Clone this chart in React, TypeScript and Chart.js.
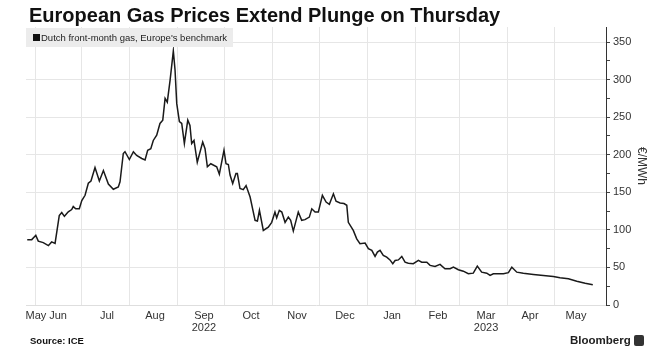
import React, { useEffect, useRef } from 'react';
import { Chart, registerables } from 'chart.js';

Chart.register(...registerables);

// Days since 2022-06-01
const dayOffsets = [
  -5, -2.1, 0.5, 2.1, 5.3, 8.6, 10.7, 12.9, 15.6, 17.2,
  18.9, 21.4, 23.6, 24.6, 26.2, 28.5, 30.1, 32.2, 34.3, 36.0,
  38.6, 41.4, 44.0, 47.2, 50.4, 53.6, 54.7, 56.8, 57.9, 60.7,
  63.3, 65.4, 68.7, 70.8, 72.5, 74.5, 76.1, 78.3, 80.4, 82.2,
  83.7, 85.1, 86.9, 89.0, 90.1, 91.2, 92.9, 94.4, 96.1, 98.3,
  99.7, 100.8, 102.3, 104.4, 107.9, 109.4, 110.9, 113.1, 116.9, 118.6,
  121.6, 122.9, 124.4, 125.5, 127.2, 129.3, 130.2, 131.9, 134.0, 135.8,
  138.4, 141.6, 143.1, 144.4, 146.9, 150.1, 152.3, 154.4, 155.5, 157.2,
  158.8, 160.9, 163.0, 164.5, 166.2, 168.0, 169.4, 171.6, 173.7, 176.5,
  178.1, 180.2, 182.3, 184.9, 187.3, 189.4, 192.0, 193.7, 196.3, 198.8,
  200.6, 201.6, 204.8, 207.0, 209.1, 212.4, 214.5, 216.7, 218.8, 220.3,
  222.0, 224.1, 226.3, 228.4, 230.2, 231.7, 233.8, 236.0, 238.1, 240.2,
  243.4, 246.7, 248.8, 252.1, 254.2, 257.4, 260.6, 263.8, 267.1, 269.2,
  272.4, 275.6, 278.8, 282.0, 284.6, 287.4, 290.7, 292.8, 294.9, 298.1,
  301.4, 304.6, 306.8, 310.0, 314.2, 320.7, 327.1, 333.5, 337.8, 343.2,
  348.6, 354.0, 358.9,
];

// Dutch front-month gas, €/MWh
const prices = [
  87, 87, 92.7, 85, 83, 79, 84, 82, 119, 123,
  118, 124, 127, 131, 128, 128, 139, 146, 162, 165,
  183, 165, 179, 161, 154, 157, 164, 201.6, 204, 193.6,
  204, 199, 195, 193, 206, 208, 219, 226, 241.6, 246,
  275, 270, 299, 338, 312.7, 268, 244, 241.6, 215, 246,
  239, 215, 219, 190, 217, 208, 184, 188, 184, 174,
  206, 188, 187, 173, 161.6, 175, 175, 155, 153.6, 159,
  143.7, 112.7, 111.7, 126, 99.3, 103.7, 110, 123.7, 116, 126,
  123.7, 110, 117, 112.7, 98.4, 112.7, 123.7, 112.7, 113.6, 117,
  128, 123.7, 123.7, 146, 137, 134, 148, 138, 135.7, 135,
  132.7, 110, 99.3, 88, 81.6, 82.4, 75, 72.7, 64.7, 70.4,
  72.7, 66, 63.7, 60, 55, 59.3, 60, 64.7, 57, 55.7,
  55, 59.3, 57, 57, 52.7, 51.3, 54, 48.2, 48.2, 50.4,
  47, 45, 41.6, 42.4, 51.7, 43.7, 42.4, 39.3, 41.6, 41.6,
  41.6, 43, 50.4, 43.7, 42.4, 40.7, 39.3, 38, 36.3, 35,
  31.7, 29, 27,
];

// Month boundaries (days since 2022-06-01): Jun 1 ... May 1
const monthStartDays = [0, 30, 61, 92, 122, 153, 183, 214, 245, 273, 304, 334];

const monthLabels: (string | string[])[] = [
  'May', 'Jun', 'Jul', 'Aug', ['Sep', '2022'], 'Oct', 'Nov', 'Dec',
  'Jan', 'Feb', ['Mar', '2023'], 'Apr', 'May',
];
const monthLabelDays = [0.6, 14.8, 46.3, 77.2, 108.7, 139, 168.6, 199.4, 229.7, 259.3, 290.2, 318.5, 348.1];

const yTickValues = [0, 25, 50, 75, 100, 125, 150, 175, 200, 225, 250, 275, 300, 325, 350];

const FONT = "'Liberation Sans', Arial, sans-serif";

export default function App() {
  const canvasRef = useRef<HTMLCanvasElement | null>(null);

  useEffect(() => {
    const canvas = canvasRef.current;
    if (!canvas) return;
    Chart.defaults.font.family = FONT;
    const chart = new Chart(canvas, {
      type: 'line',
      data: {
        datasets: [
          {
            data: dayOffsets.map((d, i) => ({ x: d, y: prices[i] })),
            borderColor: '#1a1a1a',
            borderWidth: 1.5,
            pointRadius: 0,
            tension: 0,
            fill: false,
          },
        ],
      },
      options: {
        animation: false,
        responsive: false,
        devicePixelRatio: 1,
        layout: { padding: { top: 27, left: 26, right: 3, bottom: 0 } },
        plugins: {
          legend: { display: false },
          tooltip: { enabled: false },
          title: { display: false },
        },
        scales: {
          x: {
            type: 'linear',
            min: -5.8,
            max: 367.4,
            afterBuildTicks: (s: any) => {
              s.ticks = [
                ...monthStartDays.map((v) => ({ value: v, grid: true, text: '' })),
                ...monthLabelDays.map((v, i) => ({ value: v, grid: false, text: monthLabels[i] })),
              ];
            },
            afterFit: (s: any) => {
              s.height = 45;
            },
            grid: {
              color: (ctx: any) => (ctx.tick && ctx.tick.grid ? '#e6e6e6' : 'rgba(0,0,0,0)'),
              drawTicks: false,
            },
            border: { color: '#dedede' },
            ticks: {
              autoSkip: false,
              maxRotation: 0,
              minRotation: 0,
              padding: 5,
              color: '#333',
              font: { family: FONT, size: 11, lineHeight: 1.1 },
              callback: (_v: any, i: number, t: any[]) => (t[i] && t[i].text) || '',
            },
          },
          y: {
            position: 'right',
            min: 0,
            max: 370,
            afterBuildTicks: (s: any) => {
              s.ticks = yTickValues.map((v) => ({ value: v }));
            },
            afterFit: (s: any) => {
              s.width = 43;
            },
            grid: {
              color: (ctx: any) =>
                ctx.tick && ctx.tick.value % 50 === 0 && ctx.tick.value > 0 ? '#e6e6e6' : 'rgba(0,0,0,0)',
              tickColor: '#444',
              tickLength: 4,
              drawTicks: true,
            },
            border: { color: '#333', width: 1 },
            ticks: {
              color: '#333',
              padding: 3,
              font: { family: FONT, size: 11 },
              callback: (v: any) => (Number(v) % 50 === 0 ? String(v) : ''),
            },
            title: {
              display: true,
              text: '€/MWh',
              color: '#333',
              font: { family: FONT, size: 12 },
              padding: 0,
            },
          },
        },
      },
    } as any);
    return () => chart.destroy();
  }, []);

  return (
    <div style={{ position: 'absolute', left: 0, top: 0, width: 652, height: 350, background: '#fff', fontFamily: FONT }}>
      <canvas ref={canvasRef} width={652} height={350} style={{ position: 'absolute', left: 0, top: 0, width: 652, height: 350 }} />
      <div
        style={{
          position: 'absolute', left: 29, top: 3, fontSize: 20, lineHeight: '24px', fontWeight: 'bold',
          color: '#111', whiteSpace: 'nowrap',
        }}
      >
        European Gas Prices Extend Plunge on Thursday
      </div>
      <div
        style={{
          position: 'absolute', left: 26, top: 28, width: 207, height: 19, background: '#ececec',
        }}
      >
        <div style={{ position: 'absolute', left: 7, top: 6, width: 7, height: 7, background: '#111' }} />
        <div
          style={{
            position: 'absolute', left: 15, top: 0, fontSize: 9.5, lineHeight: '19px', color: '#222', whiteSpace: 'nowrap',
          }}
        >
          Dutch front-month gas, Europe's benchmark
        </div>
      </div>
      <div
        style={{
          position: 'absolute', left: 30, top: 335, fontSize: 9.5, lineHeight: '12px', fontWeight: 'bold', color: '#111',
          whiteSpace: 'nowrap',
        }}
      >
        Source: ICE
      </div>
      <div
        style={{
          position: 'absolute', left: 570, top: 333, fontSize: 11.5, lineHeight: '14px', fontWeight: 'bold', color: '#222',
          whiteSpace: 'nowrap',
        }}
      >
        Bloomberg
      </div>
      <div
        style={{ position: 'absolute', left: 634, top: 335, width: 10, height: 11, background: '#333', borderRadius: 2 }}
      />
    </div>
  );
}
